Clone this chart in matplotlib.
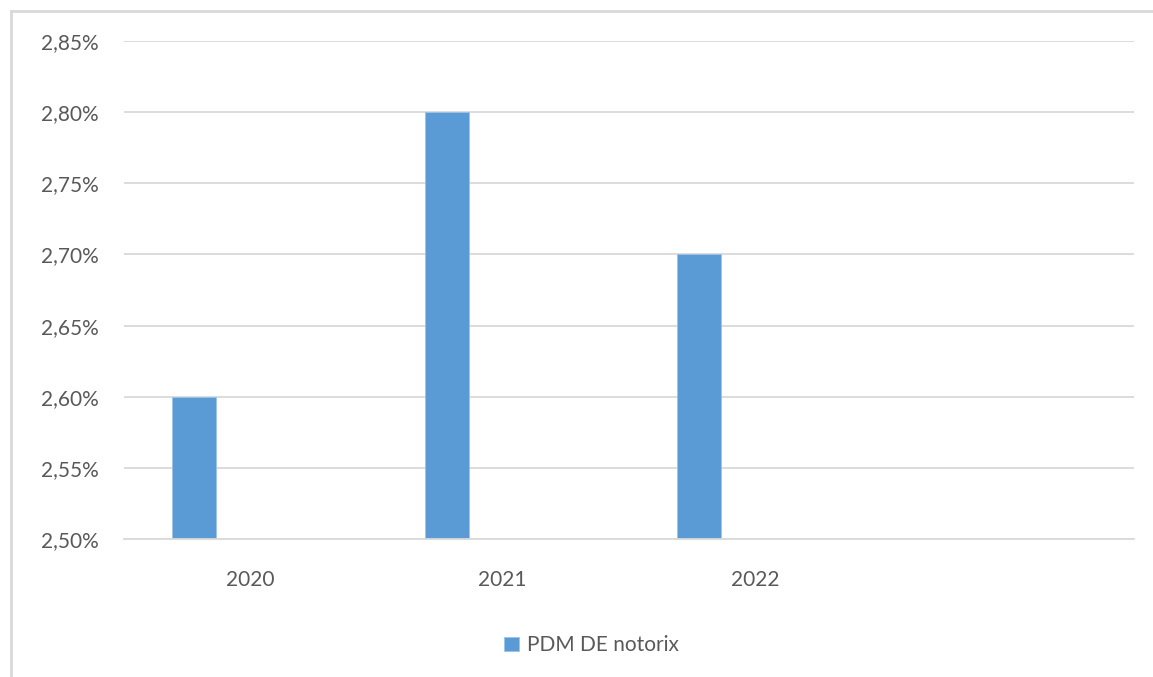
import numpy as np
from matplotlib import pyplot as plt
from matplotlib.lines import Line2D

#---------------------------------------------------------------------------------------
# Data
#---------------------------------------------------------------------------------------

years = ["2020", "2021", "2022", ""]
values = [2.60, 2.80, 2.70]          # in %
series_name = "PDM DE notorix"
yticks = [2.50, 2.55, 2.60, 2.65, 2.70, 2.75, 2.80, 2.85]

bar_color = "#5b9bd5"
grid_color = "#d9d9d9"
text_color = "#595959"

plt.rcParams['font.family'] = ['Lato', 'DejaVu Sans']

fig = plt.figure(figsize=(11.53, 6.77), dpi=100)
ax = fig.add_axes([0.1075, 0.2038, 0.876, 0.7356])

x = np.arange(len(years))
ax.bar(x[:len(values)] - 0.222, np.array(values) - 2.5, bottom=2.5, width=0.174,
       color=bar_color, edgecolor="#9dc3e6", linewidth=0.6, label=series_name, zorder=3)

ax.set_xlim(-0.5, len(years) - 0.5)
ax.set_ylim(2.50, 2.85)
ax.set_yticks(yticks)
ax.set_yticklabels([("%.2f%%" % v).replace(".", ",") for v in yticks])
ax.set_xticks(x)
ax.set_xticklabels(years)

ax.grid(axis="y", color=grid_color, linewidth=1.3, zorder=0)
for s in ["top", "right", "left"]:
    ax.spines[s].set_visible(False)
ax.spines["bottom"].set_color(grid_color)
ax.spines["bottom"].set_linewidth(1.3)
ax.spines["bottom"].set_zorder(4)

ax.tick_params(axis="y", length=0, pad=18, labelsize=15, labelcolor=text_color)
ax.tick_params(axis="x", length=0, pad=22, labelsize=15, labelcolor=text_color)

# chart frame (only left and top visible in the crop)
fig.add_artist(Line2D([0.0095, 0.0095], [0.0, 0.984], transform=fig.transFigure,
                      color=grid_color, linewidth=2))
fig.add_artist(Line2D([0.0095, 1.0], [0.984, 0.984], transform=fig.transFigure,
                      color=grid_color, linewidth=2))

fig.legend(loc="center", bbox_to_anchor=(0.513, 0.047), frameon=False,
           fontsize=15, labelcolor=text_color, handlelength=0.7, handleheight=0.7,
           handletextpad=0.4)

fig.savefig("out.png", dpi=100)
